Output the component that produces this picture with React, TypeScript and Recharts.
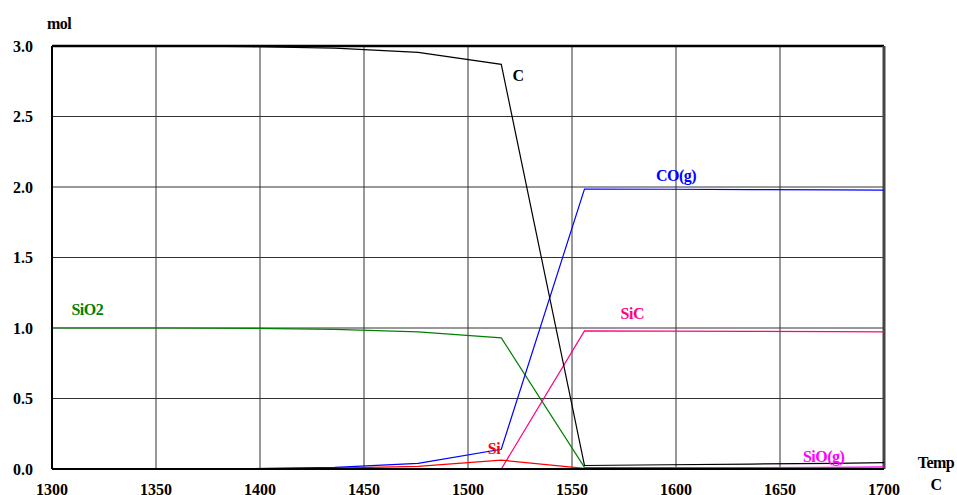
import { LineChart, Line, XAxis, YAxis, CartesianGrid, ReferenceLine, ReferenceDot } from "recharts";

const temps = [1300, 1356, 1396, 1436, 1476, 1516, 1556, 1596, 1636, 1676, 1700];
const cMol = [3.0, 3.0, 2.995, 2.985, 2.955, 2.87, 0.025, 0.03, 0.035, 0.04, 0.045];
const coMol = [0, 0, 0.002, 0.012, 0.04, 0.14, 1.985, 1.984, 1.982, 1.98, 1.978];
const sio2Mol = [1.0, 1.0, 0.998, 0.99, 0.972, 0.93, 0.012, 0.01, 0.008, 0.006, 0.005];
const sicMol = [0, 0, 0, 0, 0, 0, 0.98, 0.978, 0.976, 0.974, 0.972];
const siMol = [0, 0, 0.002, 0.006, 0.018, 0.063, 0.005, 0.003, 0.002, 0.002, 0.002];
const sioMol = [0, 0, 0, 0, 0, 0, 0.005, 0.008, 0.01, 0.012, 0.015];

const xTicks = [1300, 1350, 1400, 1450, 1500, 1550, 1600, 1650, 1700];
const yTicks = [0, 0.5, 1.0, 1.5, 2.0, 2.5, 3.0];

// label text, position in data units, colour
const seriesLabels: [string, number, number, string][] = [
  ["C", 1524, 2.794, "#000000"],
  ["CO(g)", 1600, 2.08, "#0000ff"],
  ["SiO2", 1317, 1.13, "#008000"],
  ["SiC", 1579, 1.103, "#ff0080"],
  ["Si", 1512.5, 0.149, "#ff0000"],
  ["SiO(g)", 1671, 0.092, "#ff00ff"],
  ["mol", 1303.4, 3.163, "#000000"],
  ["Temp", 1725, 0.046, "#000000"],
  ["C", 1725, -0.106, "#000000"],
];

const data = temps.map((t, i) => ({
  t,
  c: cMol[i],
  co: coMol[i],
  sio2: sio2Mol[i],
  sic: sicMol[i],
  si: siMol[i],
  sio: sioMol[i],
}));

const font = "Liberation Serif, DejaVu Serif, serif";
const tickStyle = { fill: "#000", fontSize: 16, fontWeight: 700, fontFamily: font, style: { fontFamily: font } };

export default function App() {
  return (
    <div style={{ position: "absolute", left: 0, top: 0, width: 957, height: 495, background: "#fff", fontFamily: font }}>
      <LineChart width={957} height={495} data={data} margin={{ top: 46, right: 73, left: 0, bottom: 0 }} style={{ fontFamily: font }}>
        <CartesianGrid stroke="#333" strokeWidth={1} />
        <XAxis
          dataKey="t"
          type="number"
          domain={[1300, 1700]}
          ticks={xTicks}
          height={26}
          tickSize={0}
          tickMargin={15}
          tick={tickStyle}
          axisLine={{ stroke: "#000", strokeWidth: 2 }}
          allowDataOverflow
        />
        <YAxis
          type="number"
          domain={[0, 3]}
          ticks={yTicks}
          width={52}
          tickSize={0}
          tickMargin={19}
          tick={tickStyle}
          tickFormatter={(v: number) => v.toFixed(1)}
          axisLine={{ stroke: "#000", strokeWidth: 2 }}
          allowDataOverflow
        />
        <ReferenceLine y={3} stroke="#000" strokeWidth={2.5} />
        <ReferenceLine x={1700} stroke="#444" strokeWidth={3} />
        <Line type="linear" dataKey="sio2" stroke="#008000" strokeWidth={1.2} dot={false} isAnimationActive={false} />
        <Line type="linear" dataKey="sic" stroke="#ff0080" strokeWidth={1.2} dot={false} isAnimationActive={false} />
        <Line type="linear" dataKey="si" stroke="#ff0000" strokeWidth={1.2} dot={false} isAnimationActive={false} />
        <Line type="linear" dataKey="sio" stroke="#ff00ff" strokeWidth={1.2} dot={false} isAnimationActive={false} />
        <Line type="linear" dataKey="co" stroke="#0000ff" strokeWidth={1.2} dot={false} isAnimationActive={false} />
        <Line type="linear" dataKey="c" stroke="#000000" strokeWidth={1.2} dot={false} isAnimationActive={false} />
        {seriesLabels.map(([text, x, y, color], i) => (
          <ReferenceDot
            key={i}
            x={x}
            y={y}
            r={0}
            fill="none"
            stroke="none"
            ifOverflow="visible"
            label={{
              value: text,
              position: "center",
              fill: color,
              fontSize: 16,
              fontWeight: 700,
              fontFamily: font,
              style: { fontFamily: font },
              letterSpacing: -0.5,
            }}
          />
        ))}
      </LineChart>
    </div>
  );
}
